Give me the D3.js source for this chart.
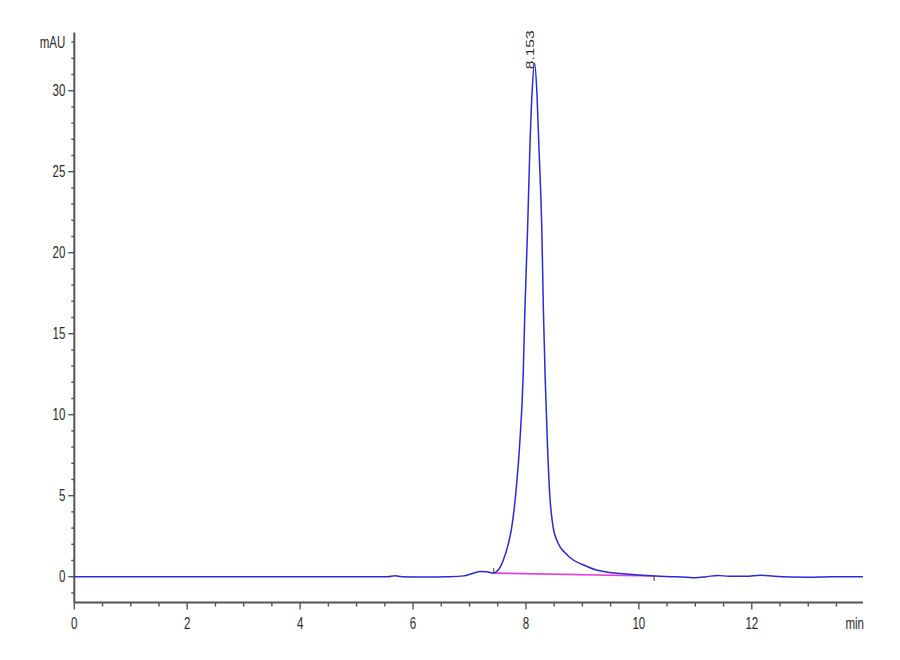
<!DOCTYPE html>
<html lang="en">
<head>
    <meta charset="UTF-8">
    <title>Chromatogram</title>
    <script src="https://cdnjs.cloudflare.com/ajax/libs/d3/7.8.5/d3.min.js"></script>
    <style>
        * { margin: 0; padding: 0; }
        body { background: #fff; width: 900px; height: 660px; overflow: hidden; }
        svg text { font-family: Arial, "Liberation Sans", sans-serif; fill: #2a2a2a; }
        .axis path, .axis line { stroke: #555; }
    </style>
</head>
<body>
    <svg id="chart" width="900" height="660"></svg>

    <script>
        // retention time (min) and signal (mAU)
        const times = [0, 1, 2, 3, 4, 5, 5.55, 5.68, 5.8, 6.2, 6.6, 6.9, 7.05, 7.2, 7.3, 7.38, 7.42,
            7.51, 7.60, 7.69, 7.75, 7.82, 7.89, 7.95, 7.98, 8.03, 8.07, 8.11, 8.153, 8.195, 8.23,
            8.28, 8.31, 8.34, 8.38, 8.42, 8.48, 8.57, 8.70, 8.84, 9.0, 9.25, 9.45, 9.66, 10.0,
            10.3, 10.6, 10.85, 11.0, 11.2, 11.4, 11.6, 11.9, 12.15, 12.4, 12.7, 13.0, 13.4, 13.97];
        const signal = [0, 0, 0, 0, 0, 0, 0, 0.06, 0, -0.02, 0, 0.05, 0.2, 0.32, 0.3, 0.24, 0.22,
            0.41, 1.03, 2.06, 3.09, 5.15, 8.23, 12.35, 16.3, 21.6, 26.5, 30.0, 31.7, 29.8, 26.5,
            21.6, 16.3, 12.35, 8.23, 5.15, 3.09, 2.06, 1.45, 1.03, 0.75, 0.41, 0.28, 0.2, 0.1,
            0.04, 0.0, -0.04, -0.07, 0.0, 0.08, 0.02, 0.02, 0.09, 0.02, -0.02, -0.03, 0.0, 0.0];

        // integration baseline of the peak
        const baseStart = [7.43, 0.22];
        const baseEnd = [10.27, 0.04];

        const peakTime = 8.153;
        const peakHeight = 31.7;
        const peakLabel = '8.153';

        const xMajor = [0, 2, 4, 6, 8, 10, 12];
        const yMajor = [0, 5, 10, 15, 20, 25, 30];
        const xUnit = 'min';
        const yUnit = 'mAU';

        const svg = d3.select('#chart');
        const squeeze = 'scale(0.72,1)';

        const x = d3.scaleLinear().domain([0, 13.97]).range([74.3, 863]);
        const y = d3.scaleLinear().domain([-1.6, 33.6]).range([602.6, 32.4]);

        // x axis: minor ticks every 0.5 min
        const xMinor = d3.range(0, 14, 0.5).filter(v => !xMajor.includes(v));
        const xg = svg.append('g').attr('class', 'axis');
        xg.append('line')
            .attr('x1', x(0)).attr('x2', x(13.97))
            .attr('y1', y(-1.6)).attr('y2', y(-1.6))
            .attr('stroke-width', 2);
        xg.selectAll('.minor').data(xMinor).enter().append('line')
            .attr('x1', d => x(d)).attr('x2', d => x(d))
            .attr('y1', y(-1.6)).attr('y2', y(-1.6) + 4)
            .attr('stroke-width', 1.4);
        xg.selectAll('.major').data(xMajor).enter().append('line')
            .attr('x1', d => x(d)).attr('x2', d => x(d))
            .attr('y1', y(-1.6)).attr('y2', y(-1.6) + 7)
            .attr('stroke-width', 1.4);
        xg.selectAll('text').data(xMajor).enter().append('text')
            .attr('transform', d => `translate(${x(d)},628.5) ${squeeze}`)
            .attr('text-anchor', 'middle')
            .attr('font-size', 16)
            .text(d => d);
        svg.append('text')
            .attr('transform', `translate(864,628.5) ${squeeze}`)
            .attr('text-anchor', 'end')
            .attr('font-size', 16)
            .text(xUnit);

        // y axis: minor ticks every 1 mAU
        const yMinor = d3.range(-1, 34, 1).filter(v => !yMajor.includes(v));
        const yg = svg.append('g').attr('class', 'axis');
        yg.append('line')
            .attr('x1', x(0)).attr('x2', x(0))
            .attr('y1', y(33.6)).attr('y2', y(-1.6))
            .attr('stroke-width', 2);
        yg.selectAll('.minor').data(yMinor).enter().append('line')
            .attr('x1', x(0) - 3).attr('x2', x(0))
            .attr('y1', d => y(d)).attr('y2', d => y(d))
            .attr('stroke-width', 1.4);
        yg.selectAll('.major').data(yMajor).enter().append('line')
            .attr('x1', x(0) - 6).attr('x2', x(0))
            .attr('y1', d => y(d)).attr('y2', d => y(d))
            .attr('stroke-width', 1.4);
        yg.selectAll('text').data(yMajor).enter().append('text')
            .attr('transform', d => `translate(${x(0) - 9},${y(d) + 5.5}) ${squeeze}`)
            .attr('text-anchor', 'end')
            .attr('font-size', 16)
            .text(d => d);
        svg.append('text')
            .attr('transform', `translate(${x(0) - 9},${y(33) + 5.5}) ${squeeze}`)
            .attr('text-anchor', 'end')
            .attr('font-size', 16)
            .text(yUnit);

        // integration baseline + start/end marks
        svg.append('line')
            .attr('x1', x(baseStart[0])).attr('y1', y(baseStart[1]))
            .attr('x2', x(baseEnd[0])).attr('y2', y(baseEnd[1]))
            .attr('stroke', '#e040e0')
            .attr('stroke-width', 1.6);
        svg.append('line')
            .attr('x1', x(baseStart[0])).attr('x2', x(baseStart[0]))
            .attr('y1', y(baseStart[1]) - 5).attr('y2', y(baseStart[1]))
            .attr('stroke', '#333').attr('stroke-width', 1);
        svg.append('line')
            .attr('x1', x(baseEnd[0])).attr('x2', x(baseEnd[0]))
            .attr('y1', y(baseEnd[1])).attr('y2', y(baseEnd[1]) + 5)
            .attr('stroke', '#333').attr('stroke-width', 1);

        // signal trace
        const pts = times.map((t, i) => [t, signal[i]]);
        const line = d3.line()
            .x(d => x(d[0]))
            .y(d => y(d[1]))
            .curve(d3.curveMonotoneX);
        svg.append('path')
            .datum(pts)
            .attr('d', line)
            .attr('fill', 'none')
            .attr('stroke', '#2a2ad8')
            .attr('stroke-width', 1.5);

        // peak retention time label
        svg.append('text')
            .attr('transform', `translate(${x(peakTime) - 0.5},${y(peakHeight) + 6}) ${squeeze} rotate(-90)`)
            .attr('font-size', 15.5)
            .text(peakLabel);
    </script>
</body>
</html>
